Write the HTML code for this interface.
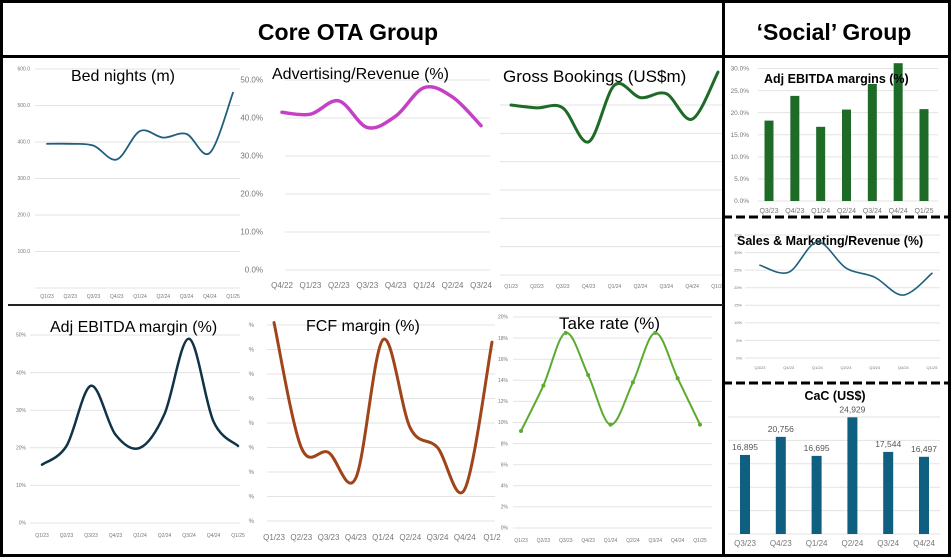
<!DOCTYPE html>
<html><head><meta charset="utf-8">
<style>
html,body{margin:0;padding:0;background:#fff;}
svg{display:block;font-family:"Liberation Sans",sans-serif;}
</style></head>
<body>
<svg id="root" width="951" height="557" viewBox="0 0 951 557">
  <rect x="0" y="0" width="951" height="557" fill="#fff"/>
  <text x="348" y="40" font-size="23" font-weight="bold" text-anchor="middle">Core OTA Group</text>
  <text x="834" y="40" font-size="23" font-weight="bold" text-anchor="middle">‘Social’ Group</text>
  <g id="charts"></g>
  <g>
    <rect x="1.5" y="1.5" width="948" height="554" fill="none" stroke="#000" stroke-width="3"/>
    <line x1="0" y1="56.5" x2="951" y2="56.5" stroke="#000" stroke-width="3"/>
    <line x1="723.5" y1="0" x2="723.5" y2="557" stroke="#000" stroke-width="3"/>
    <line x1="8" y1="305" x2="723" y2="305" stroke="#222" stroke-width="2"/>
    <line x1="723" y1="217" x2="951" y2="217" stroke="#000" stroke-width="3" stroke-dasharray="9,4"/>
    <line x1="723" y1="383" x2="951" y2="383" stroke="#000" stroke-width="3" stroke-dasharray="9,4"/>
  </g>
</svg>
<script>
// ---- data ----
const bedCats = ["Q1/23","Q2/23","Q3/23","Q4/23","Q1/24","Q2/24","Q3/24","Q4/24","Q1/25"];
const bedVals = [395,395,390,352,430,412,422,370,535];
const bedTicks = [0,100,200,300,400,500,600];
const bedTickLabels = ["","100.0","200.0","300.0","400.0","500.0","600.0"];

const advCats = ["Q4/22","Q1/23","Q2/23","Q3/23","Q4/23","Q1/24","Q2/24","Q3/24"];
const advVals = [41.5,41,44.5,37.5,40.5,48,45.5,38];
const advTicks = [0,10,20,30,40,50];
const advTickLabels = ["0.0%","10.0%","20.0%","30.0%","40.0%","50.0%"];

const gbCats = ["Q1/23","Q2/23","Q3/23","Q4/23","Q1/24","Q2/24","Q3/24","Q4/24","Q1/25"];
const gbVals = [3000,2950,2950,2350,3350,3130,3200,2750,3580];
const gbTicks = [0,500,1000,1500,2000,2500,3000];
const gbTickLabels = ["","","","","","",""];

const ebCats = ["Q1/23","Q2/23","Q3/23","Q4/23","Q1/24","Q2/24","Q3/24","Q4/24","Q1/25"];
const ebVals = [15.5,20.5,36.5,23.5,20,29,49,27,20.5];
const ebTicks = [0,10,20,30,40,50];
const ebTickLabels = ["0%","10%","20%","30%","40%","50%"];

const fcfCats = ["Q1/23","Q2/23","Q3/23","Q4/23","Q1/24","Q2/24","Q3/24","Q4/24","Q1/2"];
const fcfVals = [8.1,3.0,2.8,1.75,7.4,3.8,3.0,1.3,7.3];
const fcfTicks = [0,1,2,3,4,5,6,7,8];
const fcfTickLabels = ["%","%","%","%","%","%","%","%","%"];

const trCats = ["Q1/23","Q2/23","Q3/23","Q4/23","Q1/24","Q2/24","Q3/24","Q4/24","Q1/25"];
const trVals = [9.2,13.5,18.5,14.5,9.8,13.8,18.5,14.2,9.8];
const trTicks = [0,2,4,6,8,10,12,14,16,18,20];
const trTickLabels = ["0%","2%","4%","6%","8%","10%","12%","14%","16%","18%","20%"];

const seCats = ["Q3/23","Q4/23","Q1/24","Q2/24","Q3/24","Q4/24","Q1/25"];
const seVals = [18.2,23.8,16.8,20.7,26.5,31.2,20.8];
const seTicks = [0,5,10,15,20,25,30];
const seTickLabels = ["0.0%","5.0%","10.0%","15.0%","20.0%","25.0%","30.0%"];

const smCats = ["Q3/23","Q4/23","Q1/24","Q2/24","Q3/24","Q4/24","Q1/25"];
const smVals = [26.4,24.4,33,25.6,23,17.9,24.1];
const smTicks = [0,5,10,15,20,25,30,35];
const smTickLabels = ["0%","5%","10%","15%","20%","25%","30%","35%"];

const cacCats = ["Q3/23","Q4/23","Q1/24","Q2/24","Q3/24","Q4/24"];
const cacVals = [16895,20756,16695,24929,17544,16497];
const cacTicks = [0,5000,10000,15000,20000,25000];

// ---- helpers ----
const NS = "http://www.w3.org/2000/svg";
const host = document.getElementById("charts");
function mk(tag, parent){ const e=document.createElementNS(NS,tag); parent.appendChild(e); return e; }
function smooth(pts){
  let d="M"+pts[0][0]+","+pts[0][1];
  for(let i=0;i<pts.length-1;i++){
    const p0=pts[Math.max(0,i-1)],p1=pts[i],p2=pts[i+1],p3=pts[Math.min(pts.length-1,i+2)];
    const c1x=p1[0]+(p2[0]-p0[0])/6,c1y=p1[1]+(p2[1]-p0[1])/6;
    const c2x=p2[0]-(p3[0]-p1[0])/6,c2y=p2[1]-(p3[1]-p1[1])/6;
    d+=" C"+c1x+","+c1y+" "+c2x+","+c2y+" "+p2[0]+","+p2[1];
  }
  return d;
}
function axes(g,c,ticks,labels,cats,yFn,xFn){
  ticks.forEach((t,i)=>{
    const ln=mk("line",g);
    
    
    ln.setAttribute("x1",c.gx0);ln.setAttribute("x2",c.gx1);
    ln.setAttribute("y1",yFn(t));ln.setAttribute("y2",yFn(t));
    ln.setAttribute("stroke","#e3e3e3");ln.setAttribute("stroke-width","1");
    if(labels){
      const tx=mk("text",g);
      
      
      tx.setAttribute("x",c.lx);tx.setAttribute("y",yFn(t)+c.lfs/3);
      tx.setAttribute("font-size",c.lfs);tx.setAttribute("fill","#777");
      tx.setAttribute("text-anchor","end");
      tx.textContent=labels[i];
    }
  });
  cats.forEach((cat,i)=>{
    const tx=mk("text",g);
    
    
    tx.setAttribute("x",xFn(i));tx.setAttribute("y",c.xly);
    tx.setAttribute("font-size",c.xfs);tx.setAttribute("fill","#777");
    tx.setAttribute("text-anchor","middle");
    tx.textContent=cat;
  });
}
function title(g,c){
  const t=mk("text",g);
  
  
  t.setAttribute("x",c.tx);t.setAttribute("y",c.ty);
  t.setAttribute("font-size",c.tfs);
  if(c.tb) t.setAttribute("font-weight","bold");
  if(c.ta) t.setAttribute("text-anchor",c.ta);
  t.textContent=c.title;
}
function lineChart(name,c,cats,vals,ticks,labels){
  const g=mk("g",host);
  
  
  const vmin=ticks[0],vmax=ticks[ticks.length-1];
  const yFn=v=>c.yb-(v-vmin)/(vmax-vmin)*(c.yb-c.yt);
  const xFn=i=>c.x0+i*(c.x1-c.x0)/(cats.length-1);
  axes(g,c,ticks,labels,cats,yFn,xFn);
  title(g,c);
  const pts=vals.map((v,i)=>[xFn(i),yFn(v)]);
  const p=mk("path",g);
  
  
  p.setAttribute("d",smooth(pts));
  p.setAttribute("fill","none");p.setAttribute("stroke",c.color);
  p.setAttribute("stroke-width",c.sw);p.setAttribute("stroke-linecap","round");
  if(c.markers){
    pts.forEach(pt=>{
      const m=mk("circle",g);
      
      
      m.setAttribute("cx",pt[0]);m.setAttribute("cy",pt[1]);m.setAttribute("r","2");
      m.setAttribute("fill",c.color);
    });
  }
}
function barChart(name,c,cats,vals,ticks,labels){
  const g=mk("g",host);
  
  
  const vmin=ticks[0],vmax=ticks[ticks.length-1];
  const yFn=v=>c.yb-(v-vmin)/(vmax-vmin)*(c.yb-c.yt);
  const xFn=i=>c.x0+i*(c.x1-c.x0)/(cats.length-1);
  axes(g,c,ticks,labels,cats,yFn,xFn);
  vals.forEach((v,i)=>{
    const r=mk("rect",g);
    
    
    r.setAttribute("x",xFn(i)-c.bw/2);r.setAttribute("y",yFn(v));
    r.setAttribute("width",c.bw);r.setAttribute("height",c.yb-yFn(v));
    r.setAttribute("fill",c.color);
    if(c.valLabels){
      const t=mk("text",g);
      
      
      t.setAttribute("x",xFn(i));t.setAttribute("y",yFn(v)-5);
      t.setAttribute("font-size","8.5");t.setAttribute("fill","#555");
      t.setAttribute("text-anchor","middle");
      t.textContent=v.toLocaleString("en-US");
    }
  });
  title(g,c);
}

lineChart("bed-nights-chart",{x0:47,x1:233,yt:69,yb:288,gx0:35,gx1:240,lx:30,lfs:5,xly:298,xfs:5,
  title:"Bed nights (m)",tx:123,ty:81,tfs:16,ta:"middle",color:"#1f5f7f",sw:1.8},bedCats,bedVals,bedTicks,bedTickLabels);
lineChart("advertising-revenue-chart",{x0:282,x1:481,yt:80,yb:270,gx0:285,gx1:490,lx:263,lfs:8,xly:288,xfs:8,
  title:"Advertising/Revenue (%)",tx:272,ty:79,tfs:16,color:"#c640c6",sw:3.5},advCats,advVals,advTicks,advTickLabels);
lineChart("gross-bookings-chart",{x0:511,x1:718,yt:105,yb:275,gx0:500,gx1:722,lx:497,lfs:5,xly:288,xfs:5,
  title:"Gross Bookings (US$m)",tx:503,ty:82,tfs:17,color:"#1e6b28",sw:3},gbCats,gbVals,gbTicks,gbTickLabels);
lineChart("adj-ebitda-margin-chart",{x0:42,x1:238,yt:335,yb:523,gx0:30,gx1:240,lx:26,lfs:5,xly:537,xfs:5,
  title:"Adj EBITDA margin (%)",tx:50,ty:332,tfs:16,color:"#0f3347",sw:2.5},ebCats,ebVals,ebTicks,ebTickLabels);
lineChart("fcf-margin-chart",{x0:274,x1:492,yt:325,yb:521,gx0:267,gx1:495,lx:254,lfs:6,xly:540,xfs:8,
  title:"FCF margin (%)",tx:306,ty:331,tfs:16,color:"#a0441a",sw:3},fcfCats,fcfVals,fcfTicks,fcfTickLabels);
lineChart("take-rate-chart",{x0:521,x1:700,yt:317,yb:528,gx0:513,gx1:712,lx:508,lfs:5,xly:542,xfs:5,
  title:"Take rate (%)",tx:559,ty:329,tfs:17,color:"#5aab2e",sw:2,markers:true},trCats,trVals,trTicks,trTickLabels);
barChart("social-adj-ebitda-chart",{x0:769,x1:924,yt:68.5,yb:201,gx0:758,gx1:938,lx:749,lfs:6.5,xly:213,xfs:7,bw:9,
  title:"Adj EBITDA margins (%)",tx:764,ty:83,tfs:12.5,tb:true,color:"#1e6b28"},seCats,seVals,seTicks,seTickLabels);
lineChart("sales-marketing-revenue-chart",{x0:760,x1:932,yt:235,yb:358,gx0:745,gx1:940,lx:742,lfs:4,xly:369,xfs:4,
  title:"Sales & Marketing/Revenue (%)",tx:737,ty:245,tfs:12.5,tb:true,color:"#1f5f7f",sw:1.6},smCats,smVals,smTicks,smTickLabels);
barChart("cac-chart",{x0:745,x1:924,yt:417,yb:534,gx0:728,gx1:940,lx:726,lfs:0,xly:546,xfs:8,bw:10,valLabels:true,
  title:"CaC (US$)",tx:835,ty:400,tfs:12.5,tb:true,ta:"middle",color:"#0e5f80"},cacCats,cacVals,cacTicks,null);
</script>
</body></html>
